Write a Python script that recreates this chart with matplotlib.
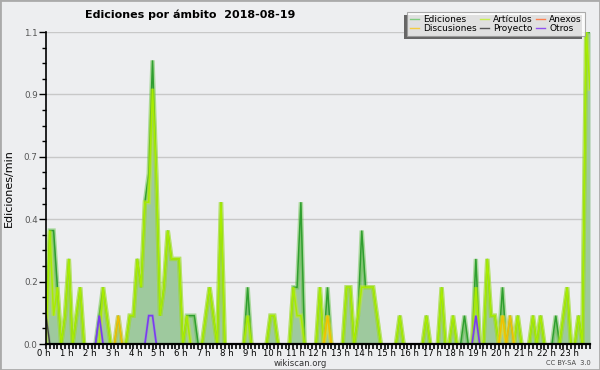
import numpy as np
import matplotlib
matplotlib.use("Agg")
import matplotlib.pyplot as plt
import matplotlib.patheffects as pe
import matplotlib.transforms as mtransforms
from matplotlib.lines import Line2D
from matplotlib.patches import Rectangle

# ---- data: edits per minute in 10-minute bins, 2018-08-19 ----
bins = list(range(144))
hour_labels = [f"{h} h" for h in range(24)]

ediciones = [0.1, 0.4, 0.4, 0.2, 0, 0.1, 0.3, 0, 0.1, 0.2, 0, 0,
             0, 0, 0.1, 0.2, 0.1, 0, 0, 0.1, 0, 0, 0.1, 0.1,
             0.3, 0.2, 0.5, 0.6, 1.0, 0.6, 0.1, 0.2, 0.4, 0.3, 0.3, 0.3,
             0, 0.1, 0.1, 0.1, 0, 0, 0.1, 0.2, 0.1, 0, 0.5, 0,
             0, 0, 0, 0, 0, 0.2, 0, 0, 0, 0, 0, 0.1,
             0.1, 0, 0, 0, 0, 0.2, 0.2, 0.5, 0, 0, 0, 0,
             0.2, 0, 0.2, 0, 0, 0, 0, 0.2, 0.2, 0, 0.1, 0.4,
             0.2, 0.2, 0.2, 0.1, 0, 0, 0, 0, 0, 0.1, 0, 0,
             0, 0, 0, 0, 0.1, 0, 0, 0, 0.2, 0, 0, 0.1,
             0, 0, 0.1, 0, 0, 0.3, 0, 0, 0.3, 0.1, 0.1, 0,
             0.2, 0, 0.1, 0, 0.1, 0, 0, 0, 0.1, 0, 0.1, 0,
             0, 0, 0.1, 0, 0.1, 0.2, 0, 0, 0.1, 0, 1.1, 1.1]

articulos = [0, 0.4, 0.1, 0.2, 0, 0.1, 0.3, 0, 0.1, 0.2, 0, 0,
             0, 0, 0, 0.2, 0.1, 0, 0, 0, 0, 0, 0.1, 0.1,
             0.3, 0.2, 0.5, 0.5, 0.9, 0.6, 0.1, 0.2, 0.4, 0.3, 0.3, 0.3,
             0, 0.1, 0, 0, 0, 0, 0.1, 0.2, 0.1, 0, 0.5, 0,
             0, 0, 0, 0, 0, 0.1, 0, 0, 0, 0, 0, 0.1,
             0.1, 0, 0, 0, 0, 0.2, 0.1, 0.1, 0, 0, 0, 0,
             0.2, 0, 0.1, 0, 0, 0, 0, 0.2, 0.2, 0, 0.1, 0.2,
             0.2, 0.2, 0.2, 0.1, 0, 0, 0, 0, 0, 0.1, 0, 0,
             0, 0, 0, 0, 0.1, 0, 0, 0, 0.2, 0, 0, 0.1,
             0, 0, 0, 0, 0, 0.2, 0, 0, 0.3, 0.1, 0.1, 0,
             0.1, 0, 0, 0, 0.1, 0, 0, 0, 0.1, 0, 0.1, 0,
             0, 0, 0, 0, 0.1, 0.2, 0, 0, 0.1, 0, 1.1, 0.9]

anexos = [0] * 144

discusiones = [0] * 144
for k in (19, 74, 120, 122):
    discusiones[k] = 0.1

proyecto = [0] * 144
proyecto[0] = 0.1

otros = [0] * 144
for k in (14, 27, 28, 113):
    otros[k] = 0.1

# ---- styling ----
BG = "#edeef0"
fig = plt.figure(figsize=(6.0, 3.7), dpi=100, facecolor=BG)
W, H = 600, 370
L, R, B, T = 46, 590, 344, 32
ax = fig.add_axes([L / W, 1 - B / H, (R - L) / W, (B - T) / H])
ax.set_facecolor(BG)

x = np.array(bins, dtype=float)


def masked(vals):
    a = np.array(vals, dtype=float)
    nz = a > 0
    keep = nz.copy()
    keep[1:] |= nz[:-1]
    keep[:-1] |= nz[1:]
    a[~keep] = np.nan
    return a


ax.fill_between(x, 0, ediciones, color="#9ec99e", lw=0, zorder=1)


def glow_line(vals, color, glow, lw=1.1, glw=3.2, galpha=0.45, z=3):
    ax.plot(x, masked(vals), color=color, lw=lw, zorder=z,
            solid_joinstyle="miter",
            path_effects=[pe.Stroke(linewidth=glw, foreground=glow, alpha=galpha),
                          pe.Normal()])


glow_line(ediciones, "#2f9f2f", "#5cbf3c", z=3)
glow_line(articulos, "#a8ec00", "#c8f020", z=4)
glow_line(anexos, "#ff7a4a", "#ff9a70", z=5)
glow_line(discusiones, "#f2c000", "#f8d040", z=5)
glow_line(otros, "#7a3cf0", "#9a70f0", lw=1.2, glw=2.2, galpha=0.3, z=6)
glow_line(proyecto, "#444444", "#777777", lw=1.0, glw=2.0, galpha=0.3, z=6)

# axes
ymax = 1.1
ax.set_xlim(0, 143)
ax.set_ylim(0, ymax)
yt = np.linspace(0, ymax, 6)
ax.set_yticks(yt)
ax.set_yticklabels([f"{v:.1f}" for v in yt], fontsize=6.3, color="#555555")
ax.set_yticks(np.linspace(0, ymax, 21), minor=True)
ax.yaxis.grid(True, color="#c8c8c8", lw=1.0)
ax.set_axisbelow(True)

ax.set_xticks([h * 6 for h in range(24)])
ax.set_xticklabels(hour_labels, fontsize=6.1)
ax.set_xticks(bins, minor=True)
ax.tick_params(axis="x", which="major", length=3.5, width=1.2, pad=0, color="black")
ax.tick_params(axis="x", which="minor", length=3.5, width=1.2, color="black")
ax.tick_params(axis="y", which="major", length=5, width=1.0, pad=1)
ax.tick_params(axis="y", which="minor", length=3, width=1.0)
shift = mtransforms.ScaledTranslation(-2 / 100, 0, fig.dpi_scale_trans)
for lab in ax.get_xticklabels():
    lab.set_horizontalalignment("center")
    lab.set_transform(lab.get_transform() + shift)

for s in ("top", "right"):
    ax.spines[s].set_visible(False)
ax.spines["left"].set_linewidth(1.2)
ax.spines["bottom"].set_linewidth(1.6)
ax.spines["left"].set_zorder(10)
ax.spines["bottom"].set_zorder(10)

ax.set_ylabel("Ediciones/min", fontsize=8, labelpad=7)

# title and footers
fig.text(85 / W, 1 - 15 / H, "Ediciones por ámbito  2018-08-19", fontsize=8,
         fontweight="bold", ha="left", va="center")
fig.text(300 / W, 1 - 363.5 / H, "wikiscan.org", fontsize=6.1, ha="center",
         va="center", color="#333333")
fig.text(591 / W, 1 - 363 / H, "CC BY-SA  3.0", fontsize=4.8, ha="right",
         va="center", color="#444444")

# legend with shadow
handles = [Line2D([], [], color="#80cc80", lw=1),
           Line2D([], [], color="#f4cc40", lw=1),
           Line2D([], [], color="#c8ee50", lw=1),
           Line2D([], [], color="#555555", lw=1),
           Line2D([], [], color="#ff8050", lw=1),
           Line2D([], [], color="#9050f0", lw=1)]
labels = ["Ediciones", "Discusiones", "Artículos", "Proyecto", "Anexos", "Otros"]
leg = fig.legend(handles, labels, ncol=3, fontsize=6.5, loc="upper right",
                 bbox_to_anchor=(585 / W, 1 - 12 / H), frameon=True,
                 fancybox=False, shadow=False, handlelength=1.0,
                 handletextpad=0.5, columnspacing=0.3, labelspacing=0.0,
                 borderpad=0.35, borderaxespad=0)
leg.get_frame().set_edgecolor("#999999")
leg.get_frame().set_linewidth(0.8)
leg.get_frame().set_facecolor("white")
fig.canvas.draw()
bb = leg.get_window_extent()
fig.patches.append(Rectangle((bb.x0 - 3, bb.y0 - 3), bb.width, bb.height,
                             transform=None, facecolor="#666666",
                             edgecolor="none", zorder=leg.get_zorder() - 0.1))

# outer border
fig.patches.append(Rectangle((0, 0), 1, 1, transform=fig.transFigure,
                             fill=False, edgecolor="#aaaaaa", lw=2))

fig.savefig("out.png", dpi=100, facecolor=BG)
